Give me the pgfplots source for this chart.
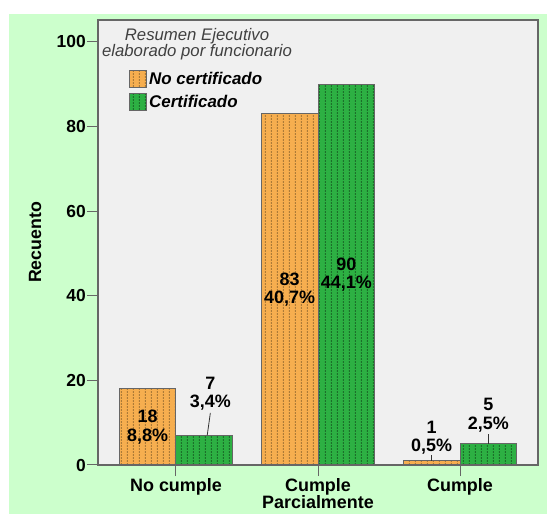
\documentclass[border=0pt]{standalone}
\usepackage{fontspec}
\setmainfont{Liberation Sans}
\usepackage{pgfplots}
\pgfplotsset{compat=1.18}
\usetikzlibrary{patterns}

\definecolor{bgGreen}{HTML}{CCFFCC}
\definecolor{plotGray}{HTML}{F0F0F0}
\definecolor{frameGray}{HTML}{666666}
\definecolor{barOrange}{HTML}{F6AE4F}
\definecolor{barGreen}{HTML}{2DB043}

% small vertical dots, the SPSS bar texture
\pgfdeclarepatternformonly{spssdots}{\pgfqpoint{0pt}{0pt}}{\pgfqpoint{6pt}{3.3pt}}{\pgfqpoint{6pt}{3.3pt}}{%
  \pgfpathrectangle{\pgfqpoint{2pt}{0.5pt}}{\pgfqpoint{0.9pt}{1.6pt}}\pgfusepath{fill}}

\pgfplotsset{
  sqlegend/.style={legend image code/.code={%
    \draw[##1] (0bp,-8.5bp) rectangle (17bp,8.5bp);}},
}

\begin{document}
\begin{tikzpicture}
\path[use as bounding box] (-98bp,-49bp) rectangle (449bp,465bp);
\fill[white] (-98bp,-49bp) rectangle (449bp,465bp);
\fill[bgGreen] (-89bp,-49bp) rectangle (449bp,451bp);
\begin{axis}[
  scale only axis,
  width=440bp, height=445bp,
  ybar=0pt, bar width=0.4,
  xmin=-0.549, xmax=2.549,
  ymin=0, ymax=105.2,
  xtick={0,1,2},
  xticklabels={No cumple,Cumple\\Parcialmente,Cumple},
  ytick={0,20,40,60,80,100},
  xtick pos=lower, ytick pos=left,
  tick align=outside,
  major tick length=11bp,
  tick style={frameGray, line width=1bp},
  axis line style={frameGray, line width=1.6bp},
  axis background/.style={fill=plotGray},
  /pgf/number format/assume math mode=true,
  yticklabel style={font=\bfseries\fontsize{17.5}{17}\selectfont, inner xsep=1bp},
  xticklabel style={font=\bfseries\fontsize{18}{16.5}\selectfont, align=center, inner ysep=2bp},
  ylabel={Recuento},
  ylabel style={font=\bfseries\fontsize{17.8}{17}\selectfont, at={(axis description cs:-0.143,0.5)}, anchor=center},
  legend style={at={(rel axis cs:0.0705,0.888)}, anchor=north west, draw=none, fill=none,
    inner sep=0pt, row sep=5bp, font=\bfseries\itshape\fontsize{17}{17}\selectfont,
    /tikz/every even column/.style={column sep=3bp}},
  legend cell align=left,
]
\addplot[fill=barOrange, draw=frameGray, line width=1bp,
  postaction={pattern=spssdots, pattern color=barOrange!55!black}, sqlegend]
  coordinates {(0,18) (1,83) (2,1)};
\addplot[fill=barGreen, draw=frameGray, line width=1bp,
  postaction={pattern=spssdots, pattern color=barGreen!45!black}, sqlegend]
  coordinates {(0,7) (1,90) (2,5)};
\legend{No certificado, Certificado}

% legend title
\node[align=center, text=black!75, font=\itshape\fontsize{16.8}{16}\selectfont]
  at (rel axis cs:0.225,0.946) {Resumen Ejecutivo\\elaborado por funcionario};

% value labels
\begin{scope}[every node/.style={align=center, font=\bfseries\fontsize{18}{18.5}\selectfont}]
\node at (axis cs:-0.2,9) {18\\8,8\%};
\node at (axis cs:0.8,41.5) {83\\40,7\%};
\node at (axis cs:1.2,45) {90\\44,1\%};
\node at (axis cs:0.242,16.9) {7\\3,4\%};
\node at (axis cs:1.8,6.4) {1\\0,5\%};
\node at (axis cs:2.2,11.8) {5\\2,5\%};
\end{scope}
\draw[black!80, line width=0.8bp] (axis cs:0.242,12.3) -- (axis cs:0.22,7);
\draw[black!80, line width=0.8bp] (axis cs:1.8,2.4) -- (axis cs:1.8,1);
\draw[black!80, line width=0.8bp] (axis cs:2.2,7.3) -- (axis cs:2.2,5);
\end{axis}
\end{tikzpicture}
\end{document}
